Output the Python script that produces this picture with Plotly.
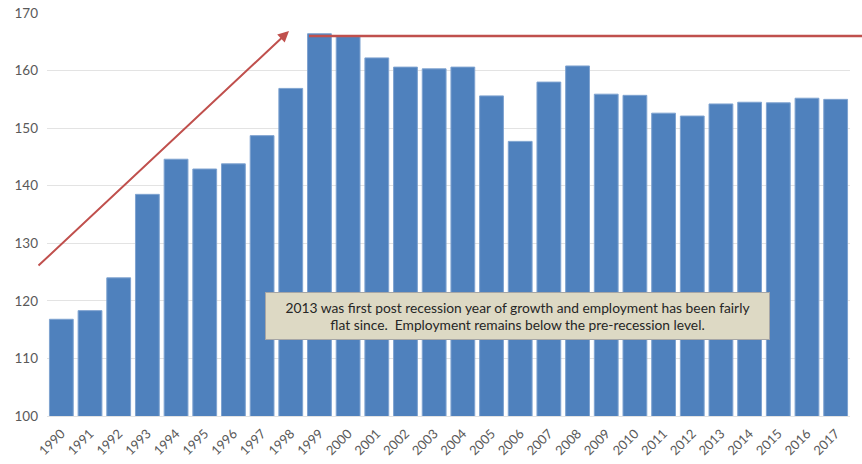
import plotly.graph_objects as go

years = [str(y) for y in range(1990, 2018)]
values = [116.8, 118.3, 124.0, 138.5, 144.6, 142.9, 143.8, 148.7, 156.9, 166.4,
          165.9, 162.2, 160.6, 160.3, 160.6, 155.6, 147.7, 158.0, 160.8, 155.9,
          155.7, 152.6, 152.1, 154.2, 154.5, 154.4, 155.2, 155.0]
y_ticks = [100, 110, 120, 130, 140, 150, 160, 170]
peak_level = 166.0
note_text = ("2013 was first post recession year of growth and employment has been fairly<br>"
             "flat since.  Employment remains below the pre-recession level.")

fig = go.Figure()
fig.add_trace(go.Bar(
    x=years, y=values,
    marker=dict(color="#4F81BD", line=dict(color="#7FA3D0", width=1)),
    hoverinfo="skip",
))

W, H = 862, 464
ml, mr, mt, mb = 47, 12, 13, 48
pw = W - ml - mr
ph = H - mt - mb

def px_x(p):
    return (p - ml) / pw

def px_y(p):
    return (H - mb - p) / ph

# horizontal red line at peak level
fig.add_shape(type="line", xref="paper", yref="y",
              x0=px_x(309), x1=px_x(862), y0=peak_level, y1=peak_level,
              line=dict(color="#C0504D", width=2.5))

# rising arrow
fig.add_annotation(xref="paper", yref="paper", x=px_x(289), y=px_y(31),
                   ax=37 - 289, ay=267 - 31, axref="pixel", ayref="pixel",
                   showarrow=True, arrowhead=2, arrowsize=1.1, arrowwidth=2,
                   arrowcolor="#C0504D", text="")

# note box
fig.add_annotation(xref="paper", yref="paper", x=px_x(517), y=px_y(316),
                   xanchor="center", yanchor="middle", showarrow=False,
                   text=note_text, align="center",
                   font=dict(family="Lato, Open Sans, sans-serif", size=13.8, color="#262626"),
                   bgcolor="#DDD9C4", bordercolor="#A6A6A6", borderwidth=1,
                   borderpad=4, width=495, height=38)

fig.update_layout(
    width=W, height=H,
    margin=dict(l=ml, r=mr, t=mt, b=mb, autoexpand=False),
    plot_bgcolor="white", paper_bgcolor="white",
    bargap=0.17, showlegend=False, hovermode=False,
    font=dict(family="Lato, Open Sans, sans-serif", color="#595959"),
    xaxis=dict(type="category", tickangle=-45, tickfont=dict(size=13, color="#595959"),
               showgrid=False, showline=True, linecolor="#E3E3E3", ticks="",
               range=[-0.5, 27.5], automargin=False, ticklabelstandoff=4),
    yaxis=dict(range=[100, 170], tickvals=y_ticks, showgrid=True, gridcolor="#E3E3E3",
               gridwidth=1, zeroline=False, showline=False, ticks="",
               tickfont=dict(size=13.5, color="#595959"), ticklabelstandoff=8,
               automargin=False),
)

fig.write_html("out.html", config={"displayModeBar": False},
               post_script="document.body.style.margin='0';document.body.style.overflow='hidden';")
